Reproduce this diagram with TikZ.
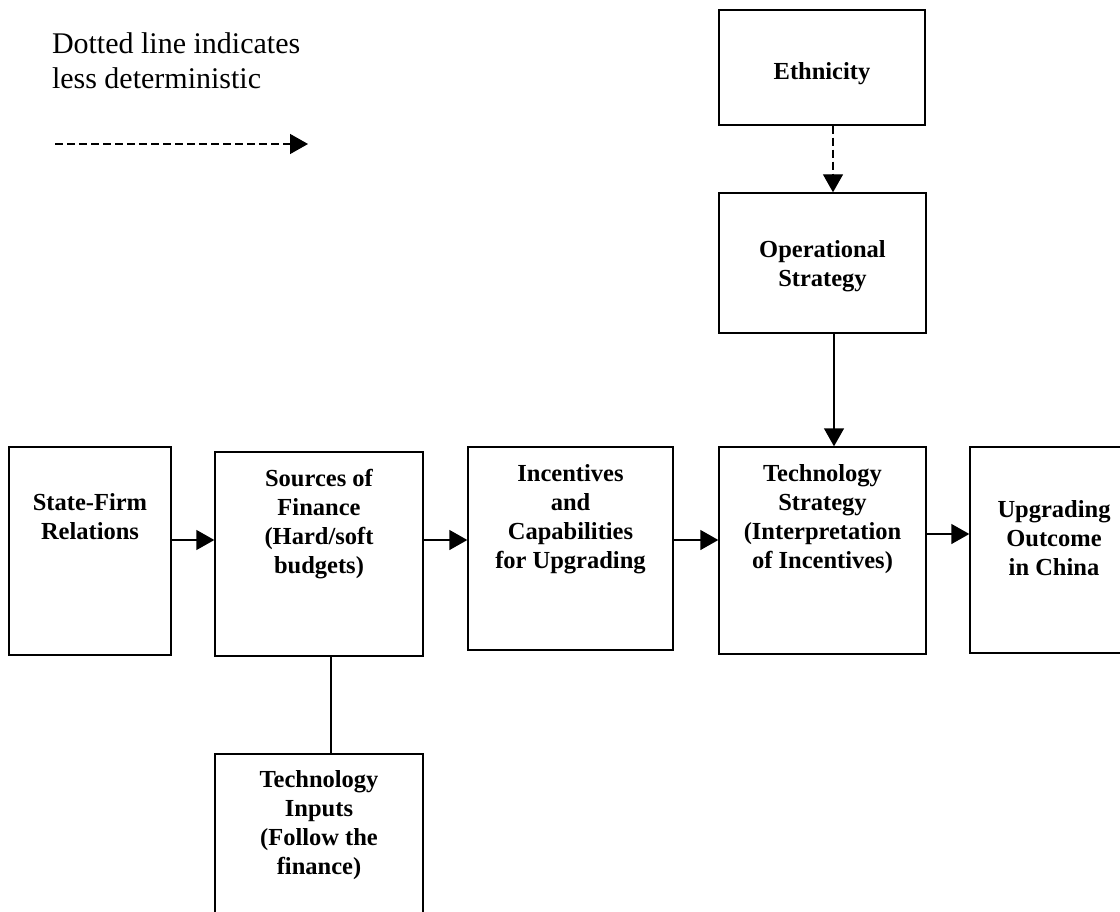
\documentclass[tikz,border=0pt]{standalone}
\usepackage{fontspec}
\setmainfont{Liberation Serif}
\usepackage{tikz}
\usetikzlibrary{arrows.meta,positioning,calc}
\tikzset{
  factorbox/.style  ={draw,line width=1.4pt,inner sep=0pt},
  factortext/.style ={align=center,inner sep=0pt,outer sep=0pt,
                       font=\bfseries\fontsize{24.5}{29}\selectfont},
  notetext/.style   ={align=left,inner sep=0pt,outer sep=0pt,
                       font=\fontsize{30}{35}\selectfont},
  flow/.style       ={-{Triangle[length=18pt,width=20pt]},line width=1.4pt},
  softflow/.style   ={-{Triangle[length=18pt,width=20pt]},line width=1.4pt,
                       dash pattern=on 8pt off 4pt},
  link/.style       ={line width=1.4pt},
}
\begin{document}
\begin{tikzpicture}[x=1pt,y=-1pt]
\clip (0,0) rectangle (1120,912);
% Legend
\node[notetext,anchor=north west] (note) at (52,33) {Dotted line indicates\\less deterministic};
\coordinate (legS) at (55,144);
\coordinate (legE) at (308,144);
\draw[softflow] (legS) -- (legE);
% Main chain of boxes
\node[factorbox,minimum width=162,minimum height=208] (SF)  at (90,551)    {};
\node[factorbox,minimum width=208,minimum height=204] (SoF) at (319,554)   {};
\node[factorbox,minimum width=205,minimum height=203] (Inc) at (570.5,548.5) {};
\node[factorbox,minimum width=207,minimum height=207] (TS)  at (822.5,550.5) {};
\node[factorbox,minimum width=168,minimum height=206] (UO)  at (1054,550)   {};
% Upper column and lower box
\node[factorbox,minimum width=206,minimum height=115] (Eth) at (822,67.5)  {};
\node[factorbox,minimum width=207,minimum height=140] (Op)  at (822.5,263) {};
\node[factorbox,minimum width=208,minimum height=206] (TI)  at (319,857)   {};
% Box texts
\node[factortext,below=47pt of SF.north]  (SFt)  {State-Firm\\Relations};
\node[factortext,below=18pt of SoF.north] (SoFt) {Sources of\\Finance\\(Hard/soft\\budgets)};
\node[factortext,below=18pt of Inc.north] (Inct) {Incentives\\and\\Capabilities\\for Upgrading};
\node[factortext,below=18pt of TS.north]  (TSt)  {Technology\\Strategy\\(Interpretation\\of Incentives)};
\node[factortext,below=54pt of UO.north]  (UOt)  {Upgrading\\Outcome\\in China};
\node[factortext,below=53pt of Eth.north] (Etht) {Ethnicity};
\node[factortext,below=48pt of Op.north]  (Opt)  {Operational\\Strategy};
\node[factortext,below=17pt of TI.north]  (TIt)  {Technology\\Inputs\\(Follow the\\finance)};
% Connectors
\draw[flow] ([yshift=11pt]SF.east) -- ([yshift=11pt]SF.east -| SoF.west);
\draw[flow] ([yshift=14pt]SoF.east) -- ([yshift=14pt]SoF.east -| Inc.west);
\draw[flow] ([yshift=8.5pt]Inc.east) -- ([yshift=8.5pt]Inc.east -| TS.west);
\draw[flow] ([yshift=16.5pt]TS.east) -- ([yshift=16.5pt]TS.east -| UO.west);
\draw[softflow] ([xshift=11pt]Eth.south) -- ([xshift=11pt]Eth.south |- Op.north);
\draw[flow] ([xshift=11.5pt]Op.south) -- ([xshift=11.5pt]Op.south |- TS.north);
\draw[link] ([xshift=12pt]SoF.south) -- ([xshift=12pt]SoF.south |- TI.north);
\end{tikzpicture}
\end{document}
